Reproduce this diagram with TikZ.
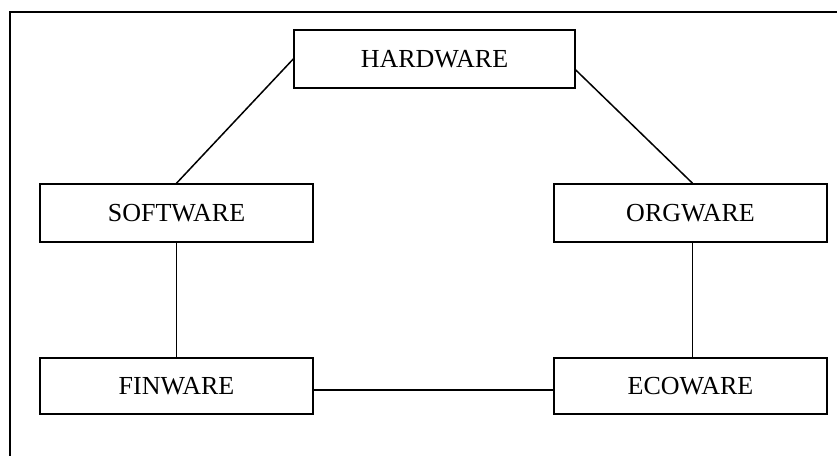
\documentclass[tikz,border=0pt]{standalone}
\usepackage{fontspec}
\setmainfont{Liberation Serif}
\begin{document}
\begin{tikzpicture}[x=1pt,y=-1pt,
  wbox/.style={draw, line width=1.5pt, minimum height=58pt, inner sep=0pt,
    font=\fontsize{26}{30}\selectfont},
  conn/.style={line width=1.5pt}]
\clip (0,0) rectangle (837,455);
\fill[white] (0,0) rectangle (837,455);
\draw[line width=1.5pt] (10,12) rectangle (860,480);
\node[wbox, minimum width=281pt] (hw) at (434.5,59) {HARDWARE};
\node[wbox, minimum width=273pt] (sw) at (176.5,213) {SOFTWARE};
\node[wbox, minimum width=273pt] (og) at (690.5,213) {ORGWARE};
\node[wbox, minimum width=273pt, minimum height=56pt] (fw) at (176.5,386) {FINWARE};
\node[wbox, minimum width=273pt, minimum height=56pt] (ew) at (690.5,386) {ECOWARE};
\draw[conn] (hw.west) -- (sw.north);
\draw[conn] ([yshift=-11pt]hw.east) -- ([xshift=2pt]og.north);
\draw[conn] (sw.south) -- (fw.north);
\draw[conn] ([xshift=2pt]og.south) -- ([xshift=2pt]ew.north);
\draw[conn] ([yshift=-4pt]fw.east) -- ([yshift=-4pt]ew.west);
\end{tikzpicture}
\end{document}
